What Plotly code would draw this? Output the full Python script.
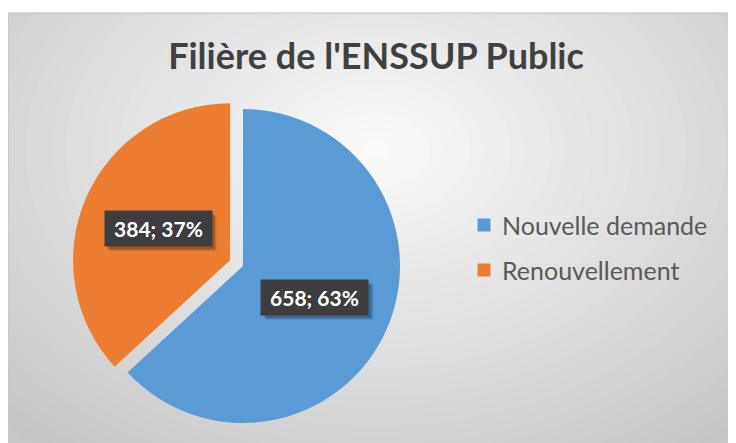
import math
import plotly.graph_objects as go

# ---- data ----
labels = ["Nouvelle demande", "Renouvellement"]
values = [658, 384]
colors = ["#5B9BD5", "#ED7D31"]
pulls = [0, 0.09]
title_text = "Filière de l'ENSSUP Public"

# ---- layout constants (screen pixels; the page body adds an 8px offset) ----
W, H = 736, 443
OFF = 8
CX, CY, R = 243, 266, 157          # pie centre / radius (screen px)
BOX_L, BOX_T = 8, 13                # chart-area box

def px(x):
    return (x - OFF) / W

def py(y):
    return 1 - (y - OFF) / H

maxpull = max(pulls)
half = R * (1 + maxpull)

fig = go.Figure()
fig.add_trace(go.Pie(
    labels=labels, values=values, sort=False, direction="clockwise", rotation=0,
    marker=dict(colors=colors, line=dict(width=0)),
    pull=pulls, textinfo="none", hoverinfo="label+value+percent",
    showlegend=False,
    domain=dict(x=[px(CX - half), px(CX + half)], y=[py(CY + half), py(CY - half)]),
))

# ---- background: radial gradient approximated by concentric ellipses ----
shapes = []
shapes.append(dict(type="rect", xref="paper", yref="paper", x0=0, x1=1, y0=0, y1=1,
                   fillcolor="rgb(200,200,200)", line=dict(width=0), layer="below"))
gcx, gcy = 376, 150
A, B = 540, 380
N = 40
c_out, c_in = 198, 251
for i in range(N):
    t = 1 - i / N
    g = round(c_out + (c_in - c_out) * (1 - t))
    a, b = A * t, B * t
    shapes.append(dict(type="circle", xref="paper", yref="paper",
                       x0=px(gcx - a), x1=px(gcx + a), y0=py(gcy + b), y1=py(gcy - b),
                       fillcolor=f"rgb({g},{g},{g})", line=dict(width=0), layer="below"))
# white strip at the top
shapes.append(dict(type="rect", xref="paper", yref="paper", x0=0, x1=1, y0=py(BOX_T), y1=1,
                   fillcolor="white", line=dict(width=0), layer="below"))
# thin border on top/left edges of the chart box
shapes.append(dict(type="line", xref="paper", yref="paper", x0=0, x1=1, y0=py(BOX_T), y1=py(BOX_T),
                   line=dict(color="#bdbdbd", width=1), layer="below"))
shapes.append(dict(type="line", xref="paper", yref="paper", x0=0.0007, x1=0.0007, y0=0, y1=py(BOX_T),
                   line=dict(color="#c8c8c8", width=1), layer="below"))

# ---- legend (drawn manually for Excel-like spacing) ----
LEG_X, LEG_Y0, LEG_DY, SQ = 484, 225, 45, 13
annotations = []
for i, (lab, col) in enumerate(zip(labels, colors)):
    yc = LEG_Y0 + i * LEG_DY
    shapes.append(dict(type="rect", xref="paper", yref="paper",
                       x0=px(LEG_X - SQ / 2), x1=px(LEG_X + SQ / 2),
                       y0=py(yc + SQ / 2), y1=py(yc - SQ / 2),
                       fillcolor=col, line=dict(width=0)))
    annotations.append(dict(xref="paper", yref="paper", x=px(LEG_X + 16), y=py(yc),
                            xanchor="left", yanchor="middle", showarrow=False, text=lab,
                            font=dict(family="Lato", size=25, color="#595959")))

# ---- data labels placed along slice bisectors ----
BW, BH = 107, 35
total = sum(values)
cum = 0
for v, p in zip(values, pulls):
    theta = 2 * math.pi * (cum + v / 2) / total
    cum += v
    dx, dy = math.sin(theta), -math.cos(theta)
    ox, oy = CX + p * R * dx, CY + p * R * dy
    lx, ly = ox + 0.5 * R * dx, oy + 0.5 * R * dy
    txt = f"{v}; {round(100 * v / total)}%"
    # soft shadow
    for s, a in ((5, 0.08), (4, 0.12), (3, 0.16)):
        shapes.append(dict(type="rect", xref="paper", yref="paper",
                           x0=px(lx - BW / 2 + s), x1=px(lx + BW / 2 + s),
                           y0=py(ly + BH / 2 + s), y1=py(ly - BH / 2 + s),
                           fillcolor=f"rgba(0,0,0,{a})", line=dict(width=0)))
    annotations.append(dict(xref="paper", yref="paper", x=px(lx), y=py(ly),
                            xanchor="center", yanchor="middle",
                            showarrow=False, text=txt, width=BW - 6, height=BH - 6, borderpad=3,
                            bgcolor="#3d3d3f", font=dict(family="Lato", size=21, color="white", weight="bold")))

fig.update_layout(
    width=W, height=H,
    margin=dict(l=0, r=0, t=0, b=0),
    paper_bgcolor="white",
    title=dict(text=title_text, x=px(376), y=py(56), xanchor="center", yanchor="middle",
               font=dict(family="Lato", size=36, color="#404040", weight="bold")),
    shapes=shapes,
    annotations=annotations,
)

fig.write_html("out.html")
